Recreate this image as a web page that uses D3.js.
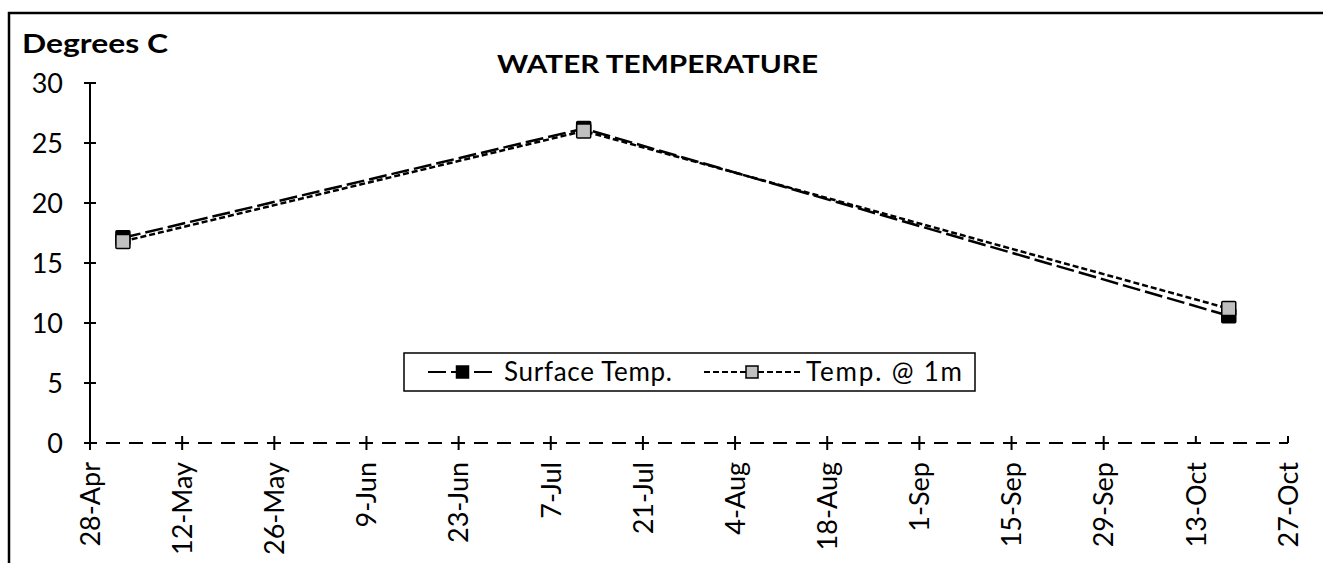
<!DOCTYPE html>
<html>
<head>
<meta charset="utf-8">
<script src="https://cdn.jsdelivr.net/npm/d3@7"></script>
<style>
  body { margin: 0; background: #fff; }
  svg { display: block; font-family: "Lato", "Open Sans", sans-serif; }
</style>
</head>
<body>
<svg id="chart" width="1323" height="563"></svg>
<script>
// data
const sampleDates = ["2023-05-03", "2023-07-12", "2023-10-18"];
const surfaceTemp = [17.1, 26.2, 10.6];
const temp1m = [16.8, 26.0, 11.2];
const tickDates = ["2023-04-28", "2023-05-12", "2023-05-26", "2023-06-09", "2023-06-23", "2023-07-07",
  "2023-07-21", "2023-08-04", "2023-08-18", "2023-09-01", "2023-09-15", "2023-09-29", "2023-10-13", "2023-10-27"];
const yTicks = [0, 5, 10, 15, 20, 25, 30];

const parse = d3.timeParse("%Y-%m-%d");
const fmt = d3.timeFormat("%-d-%b");

const svg = d3.select("#chart");

// outer frame (runs off the right and bottom)
svg.append("rect")
  .attr("x", 9).attr("y", 13)
  .attr("width", 1330).attr("height", 600)
  .attr("fill", "none").attr("stroke", "#000").attr("stroke-width", 2.5);

const x = d3.scaleTime()
  .domain([parse(tickDates[0]), parse(tickDates[tickDates.length - 1])])
  .range([90, 1288]);
const y = d3.scaleLinear().domain([0, 30]).range([443, 83]);

svg.append("text")
  .attr("x", 22).attr("y", 53)
  .attr("font-weight", "bold").attr("font-size", 27)
  .attr("textLength", 146).attr("lengthAdjust", "spacingAndGlyphs")
  .text("Degrees C");

svg.append("text")
  .attr("x", 497).attr("y", 73)
  .attr("font-weight", "bold").attr("font-size", 24)
  .attr("textLength", 321).attr("lengthAdjust", "spacingAndGlyphs")
  .text("WATER TEMPERATURE");

// y axis
const yAxis = svg.append("g");
yAxis.append("line")
  .attr("x1", x.range()[0]).attr("x2", x.range()[0])
  .attr("y1", y(30)).attr("y2", y(0))
  .attr("stroke", "#000").attr("stroke-width", 2);
yAxis.selectAll(".yt").data(yTicks).join("line")
  .attr("x1", 84).attr("x2", 96)
  .attr("y1", d => y(d)).attr("y2", d => y(d))
  .attr("stroke", "#000").attr("stroke-width", 2);
yAxis.selectAll(".yl").data(yTicks).join("text")
  .attr("x", 63).attr("y", d => y(d))
  .attr("dy", "0.36em")
  .attr("text-anchor", "end").attr("font-size", 27)
  .text(d => d);

// x axis (dashed baseline)
const xAxis = svg.append("g");
xAxis.append("line")
  .attr("x1", x.range()[0]).attr("x2", x.range()[1])
  .attr("y1", y(0)).attr("y2", y(0))
  .attr("stroke", "#000").attr("stroke-width", 2)
  .attr("stroke-dasharray", "14,9").attr("stroke-dashoffset", 7);
xAxis.selectAll(".xt").data(tickDates).join("line")
  .attr("x1", d => x(parse(d))).attr("x2", d => x(parse(d)))
  .attr("y1", y(0) - 7)
  .attr("y2", (d, i) => i >= tickDates.length - 2 ? y(0) : y(0) + 7)
  .attr("stroke", "#000").attr("stroke-width", 2);
xAxis.selectAll(".xl").data(tickDates).join("text")
  .attr("transform", d => `translate(${x(parse(d))},${y(0) + 19}) rotate(-90)`)
  .attr("dy", "0.36em")
  .attr("text-anchor", "end").attr("font-size", 27)
  .text(d => fmt(parse(d)));

// series
const series = [
  { name: "Surface Temp.", values: surfaceTemp, dash: "18,5", fill: "#000" },
  { name: "Temp. @ 1m", values: temp1m, dash: "6,3", fill: "#c0c0c0" }
];
const line = d3.line().x(d => x(d.date)).y(d => y(d.v));

series.forEach(s => {
  const pts = sampleDates.map((d, i) => ({ date: parse(d), v: s.values[i] }));
  svg.append("path")
    .datum(pts)
    .attr("d", line)
    .attr("fill", "none").attr("stroke", "#000").attr("stroke-width", 2.5)
    .attr("stroke-dasharray", s.dash);
  s.pts = pts;
});
series.forEach(s => {
  svg.selectAll(null).data(s.pts).join("rect")
    .attr("x", d => x(d.date) - 7).attr("y", d => y(d.v) - 7)
    .attr("width", 14).attr("height", 14).attr("rx", 1)
    .attr("fill", s.fill).attr("stroke", "#000").attr("stroke-width", 1.5);
});

// legend
const lg = svg.append("g");
lg.append("rect")
  .attr("x", 404).attr("y", 353).attr("width", 571).attr("height", 38)
  .attr("fill", "#fff").attr("stroke", "#000").attr("stroke-width", 1.5);
const legendItems = [
  { s: series[0], x0: 428, x1: 497, tx: 504, tl: 168 },
  { s: series[1], x0: 704, x1: 800, tx: 806, tl: 156 }
];
legendItems.forEach(it => {
  const cy = 372;
  lg.append("line")
    .attr("x1", it.x0).attr("x2", it.x1).attr("y1", cy).attr("y2", cy)
    .attr("stroke", "#000").attr("stroke-width", 2)
    .attr("stroke-dasharray", it.s.dash);
  const cx = (it.x0 + it.x1) / 2;
  lg.append("rect")
    .attr("x", cx - 6).attr("y", cy - 6).attr("width", 12).attr("height", 12)
    .attr("fill", it.s.fill).attr("stroke", "#000").attr("stroke-width", 1.5);
  lg.append("text")
    .attr("x", it.tx).attr("y", cy).attr("dy", "0.36em")
    .attr("font-size", 26)
    .attr("textLength", it.tl).attr("lengthAdjust", "spacing")
    .text(it.s.name);
});
</script>
</body>
</html>
